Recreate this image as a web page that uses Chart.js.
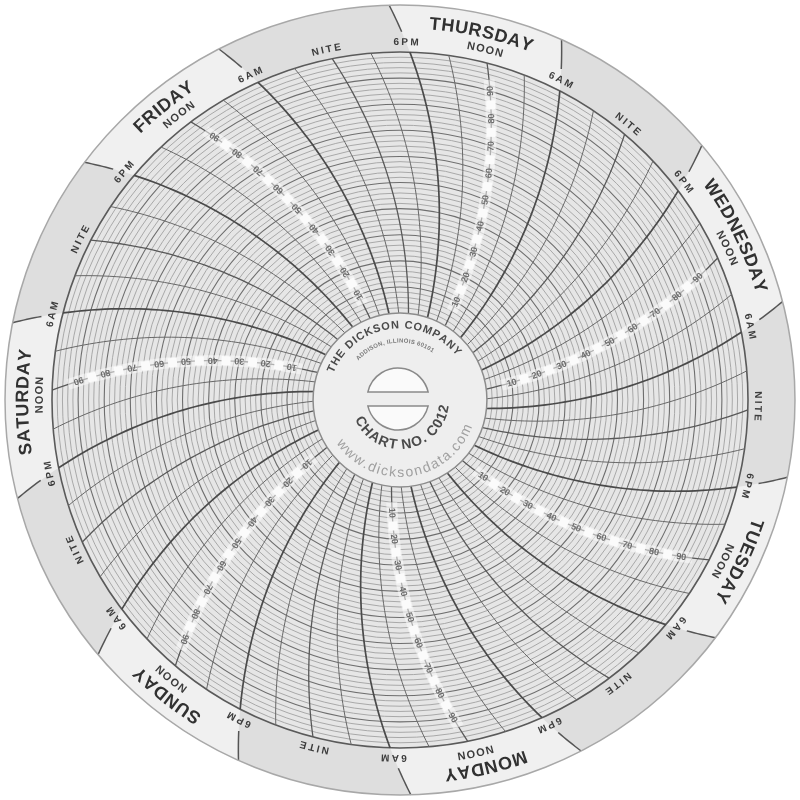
<!DOCTYPE html>
<html>
<head>
<meta charset="utf-8">
<title>Dickson Chart No. C012</title>
<script src="https://cdn.jsdelivr.net/npm/chart.js@4.4.1/dist/chart.umd.min.js"></script>
<style>
  html, body { margin: 0; padding: 0; background: #ffffff; }
  #wrap { width: 800px; height: 800px; }
</style>
</head>
<body>
<div id="wrap"><canvas id="chart" width="800" height="800"></canvas></div>
<script>
/* =======================
   CHART DATA
======================= */
// days in the order the pen meets them (time runs counter-clockwise)
const days = ["SUNDAY", "MONDAY", "TUESDAY", "WEDNESDAY", "THURSDAY", "FRIDAY", "SATURDAY"];
const gridHours = [0, 3, 6, 9, 12, 15, 18, 21];      // curved time lines
const bandHours = [0, 6, 12, 18];
const bandLabels = ["NITE", "6AM", "NOON", "6PM"];
const separatorHours = [6, 18];                      // lines across the outer band
const scaleValues = [10, 20, 30, 40, 50, 60, 70, 80, 90];
const hubTitle = "THE DICKSON COMPANY";
const hubAddress = "ADDISON, ILLINOIS 60101";
const hubChartNo = "CHART NO. C012";
const hubWeb = "www.dicksondata.com";

/* =======================
   LOOK
======================= */
const SUNDAY_NOON_DEG = 220.2;   // clockwise from 12 o'clock
const ARM = 1.32;                // pen arm length / grid radius
const VALUE_MIN = -33.3;         // puts value 0 on the hub edge
const VALUE_MAX = 100;
const OUTER_RATIO = 1.135;       // paper edge / grid edge

const FONT = '"Liberation Sans", Arial, sans-serif';
const NIGHT_FILL = "#dedede";
const DAY_FILL = "#f0f0f0";
const GRID_FILL = "#e6e6e6";
const HUB_FILL = "#eeeeee";

/* =======================
   HELPERS
======================= */
const rad = (d) => d * Math.PI / 180;

function timeAngle(dayIdx, hour) {
  return rad(SUNDAY_NOON_DEG - (dayIdx * 24 + hour - 12) * 360 / 168);
}

// point on the pen arc for a given time angle and radius
function arcPoint(scale, a0, r) {
  const rRef = scale.getDistanceFromCenterForValue(VALUE_MAX);
  const L = ARM * rRef;
  const a = a0 + Math.acos(r / (2 * L)) - Math.acos(rRef / (2 * L));
  return { x: scale.xCenter + r * Math.sin(a), y: scale.yCenter - r * Math.cos(a), a };
}

function arcText(ctx, text, cx, cy, r, mid, o) {
  const spacing = o.spacing || 0;
  ctx.save();
  ctx.font = o.font;
  ctx.fillStyle = o.color;
  ctx.textAlign = "center";
  ctx.textBaseline = o.baseline || "middle";
  const chars = [...text];
  const widths = chars.map(ch => ctx.measureText(ch).width + spacing);
  const total = widths.reduce((s, w) => s + w, 0) - spacing;
  const dir = o.inward ? -1 : 1;
  let a = mid - dir * total / (2 * r);
  chars.forEach((ch, i) => {
    const ca = a + dir * (widths[i] - spacing) / (2 * r);
    ctx.save();
    ctx.translate(cx, cy);
    if (o.inward) { ctx.rotate(ca - Math.PI); ctx.translate(0, r); }
    else { ctx.rotate(ca); ctx.translate(0, -r); }
    ctx.fillText(ch, 0, 0);
    ctx.restore();
    a += dir * widths[i] / r;
  });
  ctx.restore();
}

function tracePenArc(ctx, scale, a0, r1, r2, steps) {
  ctx.beginPath();
  for (let k = 0; k <= steps; k++) {
    const p = arcPoint(scale, a0, r1 + (r2 - r1) * k / steps);
    if (k === 0) ctx.moveTo(p.x, p.y); else ctx.lineTo(p.x, p.y);
  }
}

/* =======================
   PAPER PLUGIN
======================= */
const paper = {
  id: "paper",
  beforeDraw(chart) {
    const s = chart.scales.r;
    const ctx = chart.ctx;
    const cx = s.xCenter, cy = s.yCenter;
    const rGrid = s.getDistanceFromCenterForValue(VALUE_MAX);
    const rOut = rGrid * OUTER_RATIO;
    ctx.save();
    ctx.fillStyle = "#ffffff";
    ctx.fillRect(0, 0, chart.width, chart.height);

    ctx.beginPath();
    ctx.arc(cx, cy, rOut, 0, Math.PI * 2);
    ctx.fillStyle = NIGHT_FILL;
    ctx.fill();

    // lighter day part of the band, 6AM to 6PM
    days.forEach((d, i) => {
      const a6 = timeAngle(i, 6), a18 = timeAngle(i, 18);
      ctx.beginPath();
      for (let k = 0; k <= 10; k++) {
        const p = arcPoint(s, a6, rGrid + (rOut - rGrid) * k / 10);
        if (k === 0) ctx.moveTo(p.x, p.y); else ctx.lineTo(p.x, p.y);
      }
      ctx.arc(cx, cy, rOut, arcPoint(s, a6, rOut).a - Math.PI / 2,
        arcPoint(s, a18, rOut).a - Math.PI / 2, true);
      for (let k = 10; k >= 0; k--) {
        const p = arcPoint(s, a18, rGrid + (rOut - rGrid) * k / 10);
        ctx.lineTo(p.x, p.y);
      }
      ctx.arc(cx, cy, rGrid, a18 - Math.PI / 2, a6 - Math.PI / 2, false);
      ctx.closePath();
      ctx.fillStyle = DAY_FILL;
      ctx.fill();
    });

    ctx.beginPath();
    ctx.arc(cx, cy, rGrid, 0, Math.PI * 2);
    ctx.fillStyle = GRID_FILL;
    ctx.fill();
    ctx.restore();
  },

  afterDraw(chart) {
    const s = chart.scales.r;
    const ctx = chart.ctx;
    const cx = s.xCenter, cy = s.yCenter;
    const r0 = s.getDistanceFromCenterForValue(0);
    const rGrid = s.getDistanceFromCenterForValue(VALUE_MAX);
    const rOut = rGrid * OUTER_RATIO;
    ctx.save();

    // curved time lines
    days.forEach((d, i) => {
      gridHours.forEach(h => {
        tracePenArc(ctx, s, timeAngle(i, h), r0, rGrid, 40);
        if (h % 12 === 6) { ctx.strokeStyle = "#4a4a4a"; ctx.lineWidth = 1.7; }
        else if (h % 12 === 0) { ctx.strokeStyle = "#585858"; ctx.lineWidth = 1.3; }
        else { ctx.strokeStyle = "#686868"; ctx.lineWidth = 1.0; }
        ctx.stroke();
      });
    });

    // band separators
    days.forEach((d, i) => {
      separatorHours.forEach(h => {
        tracePenArc(ctx, s, timeAngle(i, h), rGrid * 1.058, rOut, 8);
        ctx.strokeStyle = "#555555";
        ctx.lineWidth = 1.5;
        ctx.stroke();
      });
    });

    // band labels
    days.forEach((d, i) => {
      const noon = arcPoint(s, timeAngle(i, 12), rGrid * 1.083).a;
      arcText(ctx, d, cx, cy, rGrid * 1.083, noon,
        { font: "bold 18px " + FONT, color: "#313131", spacing: 0.8 });
      bandHours.forEach((h, k) => {
        const rr = h === 12 ? rGrid * 1.036 : rGrid * 1.028;
        const a = arcPoint(s, timeAngle(i, h), rr).a;
        arcText(ctx, bandLabels[k], cx, cy, rr, a,
          h === 12 ? { font: "bold 11px " + FONT, color: "#3c3c3c", spacing: 1.2 }
                   : { font: "bold 10px " + FONT, color: "#3c3c3c", spacing: 2.3 });
      });
    });

    // value scales along each noon line
    days.forEach((d, i) => {
      const a0 = timeAngle(i, 12);
      tracePenArc(ctx, s, a0, s.getDistanceFromCenterForValue(6),
        s.getDistanceFromCenterForValue(94), 30);
      ctx.strokeStyle = "rgba(250,250,250,0.55)";
      ctx.lineWidth = 11;
      ctx.stroke();
      scaleValues.forEach(v => {
        const r = s.getDistanceFromCenterForValue(v);
        const p = arcPoint(s, a0, r);
        const q = arcPoint(s, a0, r + 1);
        const rot = Math.atan2(q.y - p.y, q.x - p.x);
        if (v < 90) {
          const rb = s.getDistanceFromCenterForValue(v + 5);
          const pb = arcPoint(s, a0, rb);
          ctx.save();
          ctx.translate(pb.x, pb.y);
          ctx.rotate(rot);
          ctx.fillStyle = "#fbfbfb";
          ctx.fillRect(-4.5, -4.5, 9, 9);
          ctx.restore();
        }
        ctx.save();
        ctx.translate(p.x, p.y);
        ctx.rotate(rot);
        ctx.font = "bold 9px " + FONT;
        ctx.fillStyle = "#6c6c6c";
        ctx.textAlign = "center";
        ctx.textBaseline = "middle";
        ctx.fillText(String(v), 0, 0.5);
        ctx.restore();
      });
    });

    // hub
    ctx.beginPath();
    ctx.arc(cx, cy, r0, 0, Math.PI * 2);
    ctx.fillStyle = HUB_FILL;
    ctx.fill();
    ctx.strokeStyle = "#8c8c8c";
    ctx.lineWidth = 1.5;
    ctx.stroke();

    const slotR = r0 * 0.356, cut = Math.asin(0.08 / 0.356);
    [[Math.PI + cut, 2 * Math.PI - cut], [cut, Math.PI - cut]].forEach(([a1, a2]) => {
      ctx.beginPath();
      ctx.arc(cx - 2, cy - 1, slotR, a1, a2);
      ctx.closePath();
      ctx.fillStyle = "#fafafa";
      ctx.fill();
      ctx.strokeStyle = "#8a8a8a";
      ctx.lineWidth = 1.5;
      ctx.stroke();
    });

    arcText(ctx, hubTitle, cx, cy, r0 * 0.86, rad(-8),
      { font: "bold 11px " + FONT, color: "#4a4a4a", spacing: 1.2 });
    arcText(ctx, hubAddress, cx, cy, r0 * 0.68, rad(-6),
      { font: "bold 6px " + FONT, color: "#7a7a7a", spacing: 0.4 });
    arcText(ctx, hubChartNo, cx, cy, r0 * 0.52, rad(172),
      { font: "bold 14px " + FONT, color: "#4a4a4a", spacing: 0.3, inward: true });
    arcText(ctx, hubWeb, cx, cy, r0 * 0.84, rad(173),
      { font: "14px " + FONT, color: "#a0a0a0", spacing: 1.2, inward: true });

    // paper edge
    ctx.beginPath();
    ctx.arc(cx, cy, rOut, 0, Math.PI * 2);
    ctx.strokeStyle = "#a8a8a8";
    ctx.lineWidth = 1.5;
    ctx.stroke();
    ctx.restore();
  }
};

/* =======================
   CHART
======================= */
new Chart(document.getElementById("chart"), {
  type: "radar",
  data: {
    labels: days,
    datasets: []
  },
  options: {
    responsive: false,
    animation: false,
    devicePixelRatio: 1,
    layout: { padding: 52 },
    plugins: { legend: { display: false }, tooltip: { enabled: false } },
    scales: {
      r: {
        min: VALUE_MIN,
        max: VALUE_MAX,
        beginAtZero: false,
        ticks: { display: false, stepSize: 2 },
        pointLabels: { display: false },
        angleLines: { display: false },
        grid: {
          circular: true,
          color: (c) => {
            const v = c.tick ? c.tick.value : 0;
            if (v <= 0.01) return "rgba(0,0,0,0)";
            if (Math.abs(v - VALUE_MAX) < 0.01) return "#5a5a5a";
            return Math.abs(v % 10) < 0.01 ? "#6e6e6e" : "#a2a2a2";
          },
          lineWidth: (c) => {
            const v = c.tick ? c.tick.value : 0;
            if (Math.abs(v - VALUE_MAX) < 0.01) return 1.6;
            return Math.abs(v % 10) < 0.01 ? 1.1 : 0.9;
          }
        }
      }
    }
  },
  plugins: [paper]
});
</script>
</body>
</html>
